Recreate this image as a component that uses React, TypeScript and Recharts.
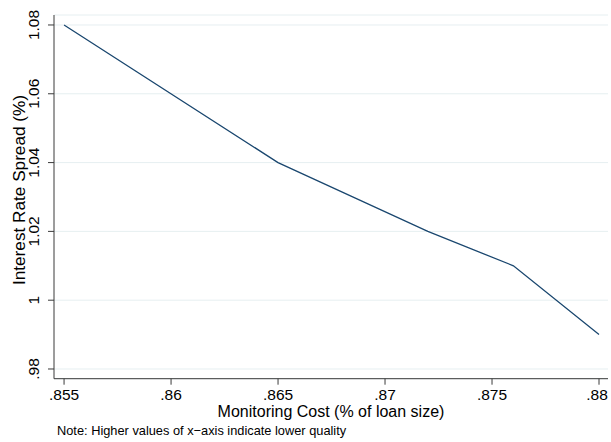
import { CartesianGrid, Line, LineChart, XAxis, YAxis } from "recharts"

const cost = [0.855, 0.865, 0.872, 0.876, 0.88]
const spread = [1.08, 1.04, 1.02, 1.01, 0.99]
const xTicks = [0.855, 0.86, 0.865, 0.87, 0.875, 0.88]
const yTicks = [0.98, 1, 1.02, 1.04, 1.06, 1.08]

const data = cost.map((x, i) => ({ x, y: spread[i] }))

const font = "'Liberation Sans', Arial, sans-serif"
const axisColor = "#3a3a3a"

// Stata drops the leading zero on decimals
const fmt = (v: number) => {
  const s = String(Number(v.toFixed(4)))
  return s.startsWith("0.") ? s.slice(1) : s
}

function XTick(props: any) {
  const { x, payload } = props
  return (
    <text x={x} y={400} textAnchor="middle" fontSize={15.5} fontFamily={font} fill="#000">
      {fmt(payload.value)}
    </text>
  )
}

function YTick(props: any) {
  const { y, payload } = props
  return (
    <text
      x={39.5}
      y={y}
      transform={`rotate(-90, 39.5, ${y})`}
      textAnchor="middle"
      fontSize={15.5}
      fontFamily={font}
      fill="#000"
    >
      {fmt(payload.value)}
    </text>
  )
}

export default function App() {
  return (
    <div style={{ position: "absolute", left: 0, top: 0, width: 611, height: 442, background: "#fff" }}>
      <LineChart width={611} height={442} data={data} margin={{ top: 15, right: 3, left: 0, bottom: 0 }}>
        <CartesianGrid vertical={false} stroke="#e6eff1" strokeWidth={1} />
        <XAxis
          type="number"
          dataKey="x"
          domain={[0.85453, 0.88042]}
          ticks={xTicks}
          tick={<XTick />}
          tickSize={6}
          height={63.3}
          stroke={axisColor}
          allowDataOverflow
          label={{
            content: () => (
              <text x={331} y={416.5} textAnchor="middle" fontSize={16} fontFamily={font} fill="#000">
                Monitoring Cost (% of loan size)
              </text>
            ),
          }}
        />
        <YAxis
          type="number"
          domain={[0.97718, 1.0829]}
          ticks={yTicks}
          tick={<YTick />}
          tickSize={6}
          width={54}
          stroke={axisColor}
          allowDataOverflow
          label={{
            content: () => (
              <text
                x={24.5}
                y={190}
                transform="rotate(-90, 24.5, 190)"
                textAnchor="middle"
                fontSize={17.2}
                fontFamily={font}
                fill="#000"
              >
                Interest Rate Spread (%)
              </text>
            ),
          }}
        />
        <Line
          type="linear"
          dataKey="y"
          stroke="#1a476f"
          strokeWidth={1.3}
          dot={false}
          isAnimationActive={false}
        />
      </LineChart>
      <div
        style={{
          position: "absolute",
          left: 57,
          top: 423,
          fontSize: 12.8,
          fontFamily: font,
          color: "#000",
          whiteSpace: "nowrap",
          lineHeight: "15px",
        }}
      >
        Note: Higher values of x−axis indicate lower quality
      </div>
    </div>
  )
}
